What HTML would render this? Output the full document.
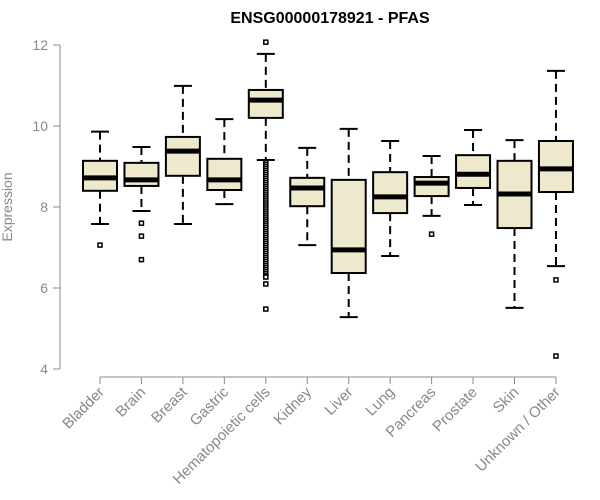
<!DOCTYPE html>
<html><head><meta charset="utf-8"><style>
body{margin:0;background:#fff;}
svg{display:block;font-family:"Liberation Sans",sans-serif;}
</style></head><body>
<svg id="chart" width="600" height="500">
<text x="330" y="23" text-anchor="middle" font-weight="bold" font-size="16">ENSG00000178921 - PFAS</text>
<text transform="translate(12,207) rotate(-90)" text-anchor="middle" font-size="14" fill="#888">Expression</text>
<g id="yaxis"></g>
<g id="xaxis"></g>
<g id="boxes"></g>
</svg>
<script>
const categories=["Bladder","Brain","Breast","Gastric","Hematopoietic cells","Kidney","Liver","Lung","Pancreas","Prostate","Skin","Unknown / Other"];
const whiskerHigh=[9.86,9.48,10.99,10.17,11.78,9.46,9.93,9.63,9.26,9.9,9.65,11.36];
const q3=[9.14,9.09,9.73,9.19,10.89,8.72,8.67,8.86,8.74,9.28,9.14,9.63];
const median=[8.72,8.67,9.38,8.67,10.64,8.47,6.94,8.25,8.59,8.81,8.32,8.94];
const q1=[8.40,8.52,8.77,8.42,10.2,8.02,6.37,7.85,8.27,8.47,7.48,8.37];
const whiskerLow=[7.58,7.9,7.58,8.07,9.16,7.06,5.28,6.79,7.78,8.05,5.51,6.54];
const outliers=[[7.06],[7.6,7.28,6.7],[],[],
[12.07,9.1,9.05,9.0,8.95,8.9,8.85,8.8,8.75,8.7,8.65,8.6,8.55,8.5,8.45,8.4,8.35,8.3,8.25,8.2,8.15,8.1,8.05,8.0,7.95,7.9,7.85,7.8,7.75,7.7,7.65,7.6,7.55,7.5,7.45,7.4,7.35,7.3,7.25,7.2,7.15,7.1,7.05,7.0,6.95,6.9,6.85,6.8,6.75,6.7,6.65,6.6,6.55,6.5,6.45,6.4,6.35,6.3,6.27,6.1,5.48],
[],[],[],[7.33],[],[],[6.2,4.32]];
const yTicks=[4,6,8,10,12];
const NS="http://www.w3.org/2000/svg";
const y=v=>369-(v-4)*40.5;
const x=i=>100+i*41.45;
function mk(t,a,p){const e=document.createElementNS(NS,t);for(const k in a)e.setAttribute(k,a[k]);(p||document.getElementById('chart')).appendChild(e);return e;}
const ya=document.getElementById('yaxis'),xa=document.getElementById('xaxis'),bx=document.getElementById('boxes');
mk('line',{x1:60,x2:60,y1:y(12),y2:y(4),stroke:'#888'},ya);
yTicks.forEach(t=>{
 const l=mk('line',{x1:53,x2:60,y1:y(t),y2:y(t),stroke:'#888'},ya);
 
 
 const tx=mk('text',{x:48,y:y(t)+5,'text-anchor':'end','font-size':14,fill:'#888'},ya);
 tx.textContent=t;
 
 
});
mk('line',{x1:x(0),x2:x(categories.length-1),y1:377,y2:377,stroke:'#888'},xa);
categories.forEach((c,i)=>{
 const cx=x(i);
 mk('line',{x1:cx,x2:cx,y1:377,y2:384,stroke:'#888'},xa);
 const tx=mk('text',{transform:`translate(${cx+5},${393}) rotate(-45)`,'text-anchor':'end','font-size':15,fill:'#888'},xa);
 tx.textContent=c;
 
 
 const g=mk('g',{},bx);
 
 
 const hw=17;
 mk('line',{x1:cx,x2:cx,y1:y(whiskerHigh[i]),y2:y(q3[i]),stroke:'#000','stroke-width':2,'stroke-dasharray':'8,5'},g);
 mk('line',{x1:cx,x2:cx,y1:y(q1[i]),y2:y(whiskerLow[i]),stroke:'#000','stroke-width':2,'stroke-dasharray':'8,5'},g);
 mk('line',{x1:cx-9,x2:cx+9,y1:y(whiskerHigh[i]),y2:y(whiskerHigh[i]),stroke:'#000','stroke-width':2},g);
 mk('line',{x1:cx-9,x2:cx+9,y1:y(whiskerLow[i]),y2:y(whiskerLow[i]),stroke:'#000','stroke-width':2},g);
 mk('rect',{x:cx-hw,y:y(q3[i]),width:2*hw,height:y(q1[i])-y(q3[i]),fill:'#EEE8CD',stroke:'#000','stroke-width':2},g);
 mk('line',{x1:cx-hw,x2:cx+hw,y1:y(median[i]),y2:y(median[i]),stroke:'#000','stroke-width':5},g);
 outliers[i].forEach(v=>{
  const r=mk('rect',{x:cx-2,y:y(v)-2,width:4,height:4,fill:'#fff',stroke:'#000','stroke-width':1.5},g);
  
  
 });
});
</script>
</body></html>
